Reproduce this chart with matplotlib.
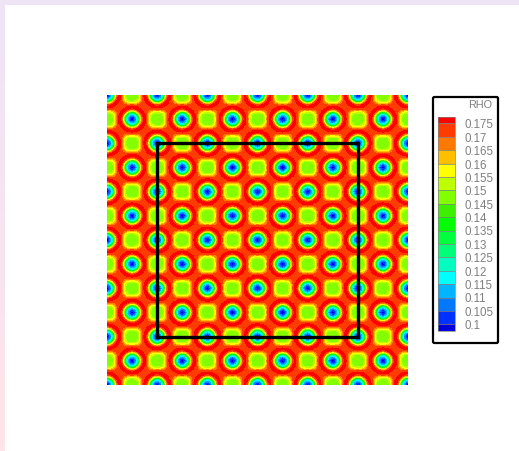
import numpy as np
import matplotlib
matplotlib.use('Agg')
import matplotlib.pyplot as plt
from matplotlib.colors import ListedColormap, BoundaryNorm, LinearSegmentedColormap
from matplotlib.patches import FancyBboxPatch, Rectangle

plt.rcParams['font.family'] = ['Liberation Sans', 'DejaVu Sans']

W = 519
H = 451

rho_quarter = np.array([
    [.095, .100, .110, .122, .150, .172, .177, .172, .158, .150, .147, .146, .146],
    [.100, .104, .113, .126, .153, .173, .177, .170, .158, .150, .147, .146, .146],
    [.110, .113, .120, .139, .160, .176, .177, .170, .159, .151, .148, .147, .147],
    [.122, .126, .139, .155, .172, .177, .174, .171, .161, .155, .151, .150, .150],
    [.150, .153, .160, .172, .177, .176, .172, .171, .168, .161, .159, .158, .158],
    [.172, .173, .176, .177, .176, .172, .171, .172, .171, .171, .170, .170, .172],
    [.177, .177, .177, .174, .172, .171, .170, .171, .172, .174, .177, .177, .177],
    [.172, .170, .170, .171, .171, .172, .171, .172, .176, .177, .176, .173, .172],
    [.158, .158, .159, .161, .168, .171, .172, .176, .177, .172, .160, .153, .150],
    [.150, .150, .151, .155, .161, .171, .174, .177, .172, .155, .139, .126, .122],
    [.147, .147, .148, .151, .159, .170, .177, .176, .160, .139, .120, .113, .110],
    [.146, .146, .147, .150, .158, .170, .177, .173, .153, .126, .113, .104, .100],
    [.146, .146, .147, .150, .158, .172, .177, .172, .150, .122, .110, .100, .095],
])

levels = [0.1, 0.105, 0.11, 0.115, 0.12, 0.125, 0.13, 0.135, 0.14, 0.145,
          0.15, 0.155, 0.16, 0.165, 0.17, 0.175]
level_labels = ['0.1', '0.105', '0.11', '0.115', '0.12', '0.125', '0.13', '0.135',
                '0.14', '0.145', '0.15', '0.155', '0.16', '0.165', '0.17', '0.175']
colors = ['#0000dc', '#0032ff', '#0078ff', '#00b4ff', '#00ffff', '#00ffbe', '#00ff78',
          '#00ff3c', '#00ff00', '#3cf000', '#82ff00', '#beff00', '#ffff00', '#ffbe00',
          '#ff7800', '#ff3c00', '#ff0000']

box_x = [0, 4, 4, 0, 0]
box_y = [0, 0, 4, 4, 0]


def px_axes(left, top, right, bottom):
    return fig.add_axes([left/W, 1 - bottom/H, (right-left)/W, (bottom-top)/H])


fig = plt.figure(figsize=[W/100, H/100], dpi=100)

# pale frame on the top and left of the page
bg = fig.add_axes([0, 0, 1, 1])
bg_cmap = LinearSegmentedColormap.from_list('bg', ['#ffe4ea', '#eee4f6'])
bg.imshow(np.linspace(0, 1, 64).reshape(-1, 1)[::-1], cmap=bg_cmap, aspect='auto', extent=[0, W, H, 0])
bg.add_patch(Rectangle((5, 5), W, H, color='white', lw=0))
bg.set_xlim(0, W)
bg.set_ylim(H, 0)
bg.axis('off')

# build the periodic field from the quarter cell
half = np.hstack([rho_quarter[:, :-1], rho_quarter[:, :0:-1]])
cell = np.vstack([half[:12], half[:0:-1]])
field = np.tile(cell, (6, 6))
field = np.hstack([field, field[:, :1]])
field = np.vstack([field, field[:1]])
x = np.linspace(-1, 5, field.shape[1])
y = np.linspace(-1, 5, field.shape[0])

cmap = ListedColormap(colors[1:-1])
cmap.set_under(colors[0])
cmap.set_over(colors[-1])
norm = BoundaryNorm(levels, cmap.N)

ax = px_axes(107, 95, 408, 385)
ax.contourf(x, y, field, levels=levels, cmap=cmap, norm=norm, extend='both')
ax.plot(box_x, box_y, color='black', lw=2.4, solid_joinstyle='miter', solid_capstyle='projecting')
ax.set_xlim(-1, 5)
ax.set_ylim(-1, 5)
ax.axis('off')

# legend box
bg.add_patch(FancyBboxPatch((433, 97), 65, 246, boxstyle='round,pad=0,rounding_size=1.5',
                            fc='white', ec='black', lw=1.6))
bg.text(492, 105.5, 'RHO', color='#808080', fontsize=7.8, ha='right', va='center')

cax = px_axes(438, 116.7, 455, 331)
sm = plt.cm.ScalarMappable(norm=norm, cmap=cmap)
cb = fig.colorbar(sm, cax=cax, extend='both', extendrect=True, extendfrac=0.5/15,
                  ticks=levels, drawedges=True)
cb.ax.set_yticklabels([])
cb.ax.tick_params(length=0)
for lev, lab in zip(levels, level_labels):
    cb.ax.annotate(lab, (1, lev), xycoords=('axes fraction', 'data'), xytext=(6.5, -1.4),
                   textcoords='offset points', color='#808080', fontsize=8.3, va='center', annotation_clip=False)
cb.outline.set_linewidth(0.5)
cb.outline.set_edgecolor('#808080')
cb.dividers.set_color('#808080')
cb.dividers.set_linewidth(0.5)

fig.savefig('out.png', dpi=100)
